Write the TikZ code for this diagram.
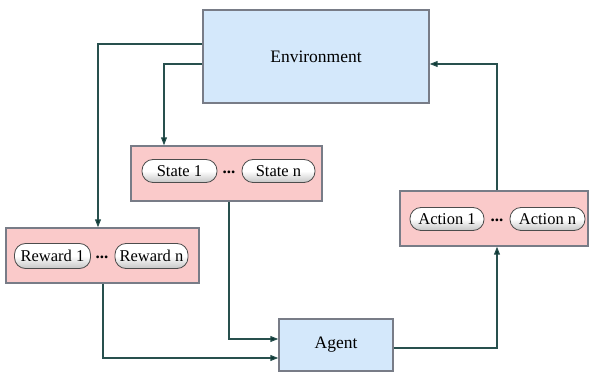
\documentclass[tikz,border=0pt]{standalone}
\usepackage{fontspec}
\setmainfont{Liberation Serif}
\usetikzlibrary{arrows.meta,shadows}
\definecolor{envblue}{RGB}{212,232,251}
\definecolor{boxpink}{RGB}{250,202,202}
\definecolor{edgegray}{RGB}{120,124,135}
\definecolor{conncol}{RGB}{40,80,78}
\definecolor{tipcol}{RGB}{10,55,50}
\tikzset{
  bigbox/.style={draw=edgegray, line width=1.4pt, inner sep=0pt,
    drop shadow={shadow xshift=1pt, shadow yshift=-1pt, opacity=0.35},
    font=\fontsize{17.5}{20}\selectfont},
  envbox/.style={bigbox, fill=envblue},
  pinkbox/.style={bigbox, fill=boxpink},
  pill/.style={draw=gray!60!black, line width=0.8pt, rounded corners=11pt,
    top color=white, bottom color=gray!45, middle color=white,
    inner sep=0pt, minimum height=23pt, font=\fontsize{16.5}{19}\selectfont},
  dots/.style={font=\fontsize{17}{19}\selectfont\bfseries, inner sep=0pt},
  conn/.style={draw=conncol, line width=1.1pt,
    -{Triangle[length=8pt,width=6pt,fill=tipcol]}}
}
\begin{document}
\begin{tikzpicture}[x=1pt,y=-1pt]
\useasboundingbox (0,0) rectangle (590,374);
% boxes
\node[envbox, minimum width=226pt, minimum height=93pt] (env) at (316,56.5) {Environment};
\node[pinkbox, minimum width=191pt, minimum height=55pt] (state) at (226.5,173.5) {};
\node[pinkbox, minimum width=193pt, minimum height=55pt] (reward) at (102.5,255.5) {};
\node[pinkbox, minimum width=188pt, minimum height=55pt] (action) at (494,218.5) {};
\node[envbox, minimum width=114pt, minimum height=52pt] (agent) at (336,345) {Agent};
% pills
\node[pill, minimum width=75pt] (s1) at (179.5,171) {State 1};
\node[pill, minimum width=73pt] (sn) at (278.5,171) {State n};
\node[dots] (sd) at (229,172) {...};
\node[pill, minimum width=76pt, minimum height=25pt] (r1) at (52.5,256) {Reward 1};
\node[pill, minimum width=73pt, minimum height=25pt] (rn) at (151.5,256) {Reward n};
\node[dots] (rd) at (102,257) {...};
\node[pill, minimum width=74pt] (a1) at (447,219) {Action 1};
\node[pill, minimum width=75pt] (an) at (547.5,219) {Action n};
\node[dots] (ad) at (497,220) {...};
% connectors
\draw[conn] ([yshift=12.5pt]env.west) -| ([xshift=-4.5pt]reward.north);
\draw[conn] ([yshift=-7.5pt]env.west) -| ([xshift=-62.5pt]state.north);
\draw[conn] ([xshift=2.5pt]state.south) |- ([yshift=6pt]agent.west);
\draw[conn] ([xshift=0.5pt]reward.south) |- ([yshift=-13pt]agent.west);
\draw[conn] ([yshift=-3pt]agent.east) -| ([xshift=3pt]action.south);
\draw[conn] ([xshift=3pt]action.north) |- ([yshift=-7.5pt]env.east);
\end{tikzpicture}
\end{document}
